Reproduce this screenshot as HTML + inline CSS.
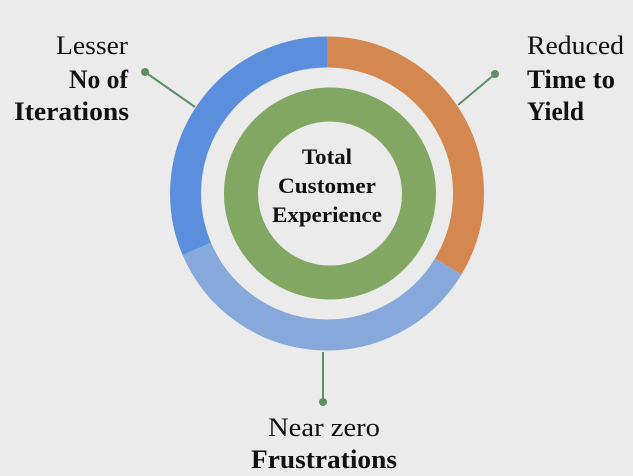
<!DOCTYPE html>
<html><head><style>html,body{margin:0;padding:0;background:#ebebeb;}svg{display:block}</style></head>
<body>
<svg width="633" height="476" viewBox="0 0 633 476" xmlns="http://www.w3.org/2000/svg" font-family="'Liberation Serif', serif" fill="#111">
<rect width="633" height="476" fill="#ebebeb"/>
<g fill="none" stroke-width="31">
<path d="M327 52 A141.5 141.5 0 0 1 448.3 266.4" stroke="#d4874f"/>
<path d="M448.3 266.4 A141.5 141.5 0 0 1 196.8 248.8" stroke="#87a8da"/>
<path d="M196.8 248.8 A141.5 141.5 0 0 1 327 52" stroke="#5b8fdd"/>
<circle cx="330" cy="193.5" r="89" stroke="#82a762" stroke-width="34"/>
</g>
<g stroke="#5f9065" stroke-width="2">
<line x1="145" y1="72" x2="195" y2="107"/>
<line x1="495" y1="74" x2="458" y2="105"/>
<line x1="323" y1="352" x2="323" y2="402"/>
</g>
<g fill="#5f9065">
<circle cx="145" cy="72" r="4"/>
<circle cx="495" cy="74" r="4"/>
<circle cx="323" cy="402" r="4"/>
</g>
<g font-size="26">
<text x="56" y="54" textLength="72" lengthAdjust="spacingAndGlyphs">Lesser</text>
<text x="69" y="88" font-weight="bold" textLength="59" lengthAdjust="spacingAndGlyphs">No of</text>
<text x="14" y="120" font-weight="bold" textLength="115" lengthAdjust="spacingAndGlyphs">Iterations</text>
<text x="527" y="54" textLength="97" lengthAdjust="spacingAndGlyphs">Reduced</text>
<text x="527" y="88" font-weight="bold" textLength="88" lengthAdjust="spacingAndGlyphs">Time to</text>
<text x="527" y="120" font-weight="bold" textLength="57" lengthAdjust="spacingAndGlyphs">Yield</text>
<text x="268" y="436" textLength="112" lengthAdjust="spacingAndGlyphs">Near zero</text>
<text x="251" y="468" font-weight="bold" textLength="146" lengthAdjust="spacingAndGlyphs">Frustrations</text>
</g>
<g font-size="22" font-weight="bold">
<text x="302" y="164" textLength="50" lengthAdjust="spacingAndGlyphs">Total</text>
<text x="278" y="193" textLength="98" lengthAdjust="spacingAndGlyphs">Customer</text>
<text x="272" y="222" textLength="110" lengthAdjust="spacingAndGlyphs">Experience</text>
</g>
</svg>
</body></html>
